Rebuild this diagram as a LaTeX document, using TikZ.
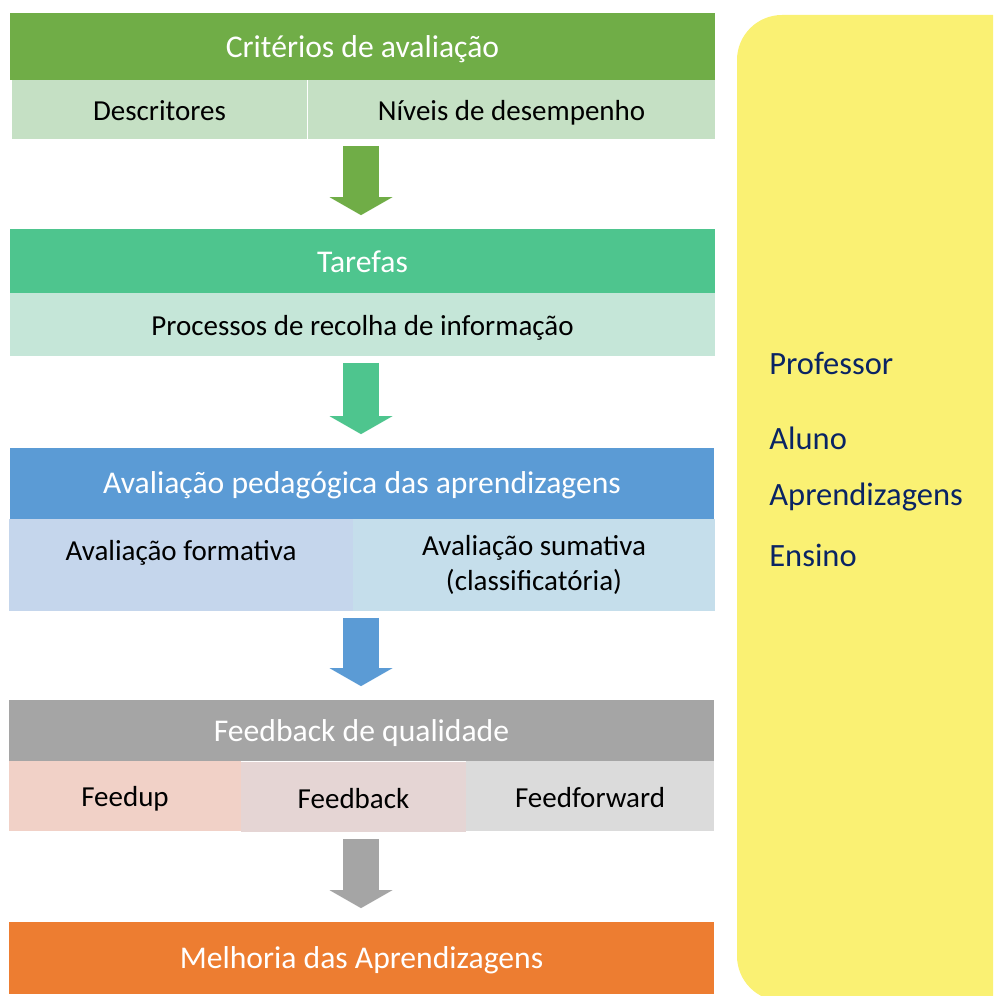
\documentclass[tikz,border=0pt]{standalone}
\usepackage{fontspec}
\setmainfont{Carlito}
\usetikzlibrary{arrows.meta}

\definecolor{grn}{RGB}{112,173,71}
\definecolor{grnlt}{RGB}{197,224,196}
\definecolor{teal}{RGB}{78,197,142}
\definecolor{teallt}{RGB}{197,230,216}
\definecolor{blu}{RGB}{91,155,213}
\definecolor{blulta}{RGB}{197,214,236}
\definecolor{blultb}{RGB}{197,222,235}
\definecolor{gry}{RGB}{165,165,165}
\definecolor{fup}{RGB}{241,209,199}
\definecolor{fback}{RGB}{229,213,212}
\definecolor{ffwd}{RGB}{219,219,219}
\definecolor{orng}{RGB}{237,125,49}
\definecolor{yel}{RGB}{250,241,115}
\definecolor{navy}{RGB}{10,36,100}

\begin{document}
\begin{tikzpicture}[x=0.02cm, y=-0.02cm,
    hdr/.style = {minimum width=14.1cm, inner sep=0pt, text=white,
                  font=\fontsize{18}{22}\selectfont,
                  execute at begin node={\rule[-2pt]{0pt}{17pt}}},
    cell/.style = {inner sep=0pt, align=center, text=black,
                   font=\fontsize{16.5}{20}\selectfont,
                   execute at begin node={\rule[-2pt]{0pt}{17pt}}},
    side/.style = {anchor=west, text=navy, inner sep=0pt,
                    font=\fontsize{18.5}{22}\selectfont},
    bigarr/.style = {line width=0.72cm,
                     -{Triangle[width=1.26cm, length=0.36cm, line width=0pt]},
                     shorten <=0.13cm, shorten >=0.27cm}]

    \useasboundingbox (0, 0) rectangle (993, 996);
    \clip (0, 0) rectangle (993, 996);

    \fill[yel, rounded corners=0.9cm] (737, 15) rectangle (1045, 1001);

    \node[hdr, fill=grn, minimum height=1.34cm] (h1) at (362.5, 46.5) {Critérios de avaliação};
    \node[cell, fill=grnlt, minimum width=5.9cm, minimum height=1.18cm] (c1a) at (159.5, 109.5) {Descritores};
    \node[cell, fill=grnlt, minimum width=8.14cm, minimum height=1.18cm] (c1b) at (511.5, 109.5) {Níveis de desempenho};

    %--------------------------------------------

    \node[hdr, fill=teal, minimum height=1.28cm] (h2) at (362.5, 261) {Tarefas};
    \node[cell, fill=teallt, minimum width=14.1cm, minimum height=1.26cm] (c2) at (362.5, 324.5) {Processos de recolha de informação};

    %--------------------------------------------

    \node[hdr, fill=blu, minimum height=1.42cm] (h3) at (362, 483.5) {Avaliação pedagógica das aprendizagens};
    \node[cell, fill=blulta, minimum width=6.88cm, minimum height=1.84cm] (c3a) at (181, 565) {Avaliação formativa\\[-9pt]\strut};
    \node[cell, fill=blultb, minimum width=7.24cm, minimum height=1.84cm] (c3b) at (534, 565) {Avaliação sumativa\\(classificatória)};

    %--------------------------------------------

    \node[hdr, fill=gry, minimum height=1.22cm] (h4) at (361.5, 730.5) {Feedback de qualidade};
    \node[cell, fill=fup, minimum width=4.64cm, minimum height=1.4cm] (c4a) at (125, 796) {Feedup};
    \node[cell, fill=fback, minimum width=4.5cm, minimum height=1.4cm] (c4b) at (353.5, 797) {Feedback};
    \node[cell, fill=ffwd, minimum width=4.96cm, minimum height=1.4cm] (c4c) at (590, 796) {Feedforward};

    %--------------------------------------------

    \node[hdr, fill=orng, minimum height=1.44cm] (h5) at (361.5, 958) {Melhoria das Aprendizagens};

    \draw[bigarr, grn] (h1.south |- c1a.south) ++(-1.5, 0) -- (h2.north -| 361, 0);
    \draw[bigarr, teal] (c2.south -| 361, 0) -- (h3.north -| 361, 0);
    \draw[bigarr, blu] (c3a.south -| 361, 0) -- (h4.north -| 361, 0);
    \draw[bigarr, gry] (c4b.south -| 361, 0) -- (h5.north -| 361, 0);

    \node[side] (prof) at (769, 363) {Professor};
    \node[side] (aluno) at (769, 438) {Aluno};
    \node[side] (aprend) at (769, 497) {Aprendizagens};
    \node[side] (ensino) at (769, 555) {Ensino};

\end{tikzpicture}
\end{document}
